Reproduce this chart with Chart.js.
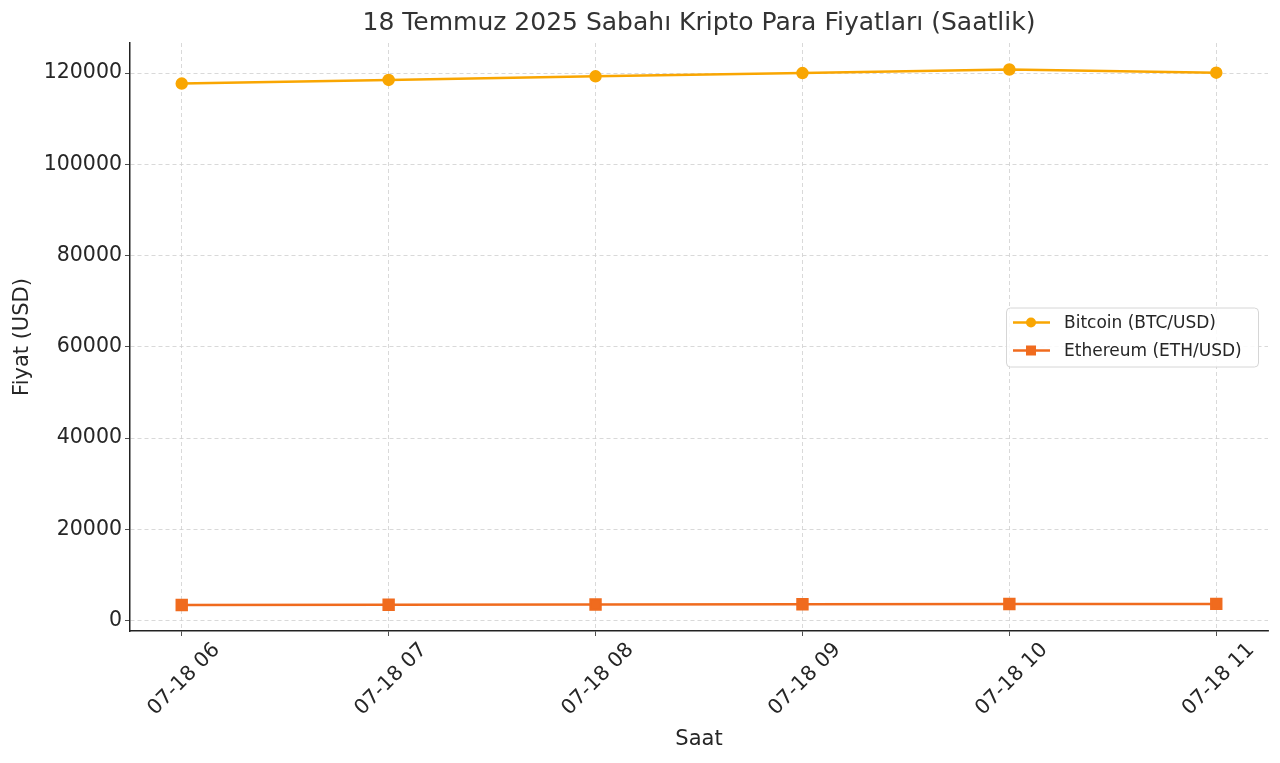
<!DOCTYPE html>
<html>
<head>
<meta charset="utf-8">
<title>Kripto Para Fiyatları</title>
<script src="https://cdn.jsdelivr.net/npm/chart.js@4.4.1/dist/chart.umd.min.js"></script>
<style>
    body { margin: 0; background: #fff; }
    #wrap { width: 1280px; height: 763px; position: relative; }
</style>
</head>
<body>
<div id="wrap"><canvas id="priceChart"></canvas></div>
<script>
// Chart data
const hours = ['07-18 06', '07-18 07', '07-18 08', '07-18 09', '07-18 10', '07-18 11'];
const btcPrices = [117700, 118500, 119300, 120000, 120800, 120100];
const ethPrices = [3400, 3450, 3520, 3550, 3620, 3640];
const yTicks = [0, 20000, 40000, 60000, 80000, 100000, 120000];

const FONT = "'DejaVu Sans', sans-serif";
const TEXT = '#262626';
const BTC_COLOR = '#f9a602';
const ETH_COLOR = '#f06b1e';

const toPoints = values => values.map((v, i) => ({ x: i, y: v }));

// Legend drawn inside the plot area, matplotlib style
const innerLegend = {
    id: 'innerLegend',
    afterDraw(chart) {
        const { ctx, chartArea } = chart;
        const w = 252, h = 59;
        const x = chartArea.right - 10 - w;
        const y = (chartArea.top + chartArea.bottom) / 2 - h / 2;

        ctx.save();
        ctx.fillStyle = 'rgba(255,255,255,0.85)';
        ctx.strokeStyle = '#d6d6d6';
        ctx.lineWidth = 1;
        ctx.beginPath();
        ctx.roundRect(x + 0.5, y + 0.5, w, h, 4);
        ctx.fill();
        ctx.stroke();

        ctx.font = '17px ' + FONT;
        ctx.textBaseline = 'middle';
        chart.data.datasets.forEach((ds, i) => {
            const rowY = y + 15 + i * 28;
            ctx.strokeStyle = ds.borderColor;
            ctx.lineWidth = 2.5;
            ctx.beginPath();
            ctx.moveTo(x + 7, rowY);
            ctx.lineTo(x + 44, rowY);
            ctx.stroke();
            ctx.fillStyle = ds.borderColor;
            if (ds.pointStyle === 'rect') {
                ctx.fillRect(x + 20, rowY - 5, 10, 10);
            } else {
                ctx.beginPath();
                ctx.arc(x + 25, rowY, 5, 0, Math.PI * 2);
                ctx.fill();
            }
            ctx.fillStyle = TEXT;
            ctx.fillText(ds.label, x + 58, rowY + 1);
        });
        ctx.restore();
    }
};

const gridOpts = {
    color: '#cfcfcf',
    lineWidth: 0.8,
    tickColor: '#222',
    tickLength: 5
};

const ctx = document.getElementById('priceChart').getContext('2d');
new Chart(ctx, {
    type: 'line',
    data: {
        datasets: [
            {
                label: 'Bitcoin (BTC/USD)',
                data: toPoints(btcPrices),
                borderColor: BTC_COLOR,
                backgroundColor: BTC_COLOR,
                borderWidth: 2.5,
                pointStyle: 'circle',
                pointRadius: 5,
                tension: 0
            },
            {
                label: 'Ethereum (ETH/USD)',
                data: toPoints(ethPrices),
                borderColor: ETH_COLOR,
                backgroundColor: ETH_COLOR,
                borderWidth: 2.5,
                pointStyle: 'rect',
                pointRadius: 7,
                tension: 0
            }
        ]
    },
    options: {
        responsive: true,
        maintainAspectRatio: false,
        animation: false,
        layout: { padding: { left: 0, right: 12, top: 0, bottom: 0 } },
        plugins: {
            legend: { display: false },
            tooltip: { enabled: false },
            title: {
                display: true,
                fullSize: false,
                text: '18 Temmuz 2025 Sabahı Kripto Para Fiyatları (Saatlik)',
                color: '#333',
                font: { family: FONT, size: 25, weight: 'normal' },
                padding: { top: 8, bottom: 5 }
            }
        },
        scales: {
            x: {
                type: 'linear',
                min: -0.25,
                max: 5.25,
                afterBuildTicks: scale => {
                    scale.ticks = hours.map((_, i) => ({ value: i }));
                },
                afterFit: scale => { scale.height = 132; },
                ticks: {
                    callback: value => hours[value],
                    minRotation: 45,
                    maxRotation: 45,
                    labelOffset: 35,
                    padding: 2,
                    color: TEXT,
                    font: { family: FONT, size: 20.5 }
                },
                grid: gridOpts,
                border: { display: true, color: '#222', width: 1.5, dash: [4, 3] },
                title: {
                    display: true,
                    text: 'Saat',
                    color: TEXT,
                    font: { family: FONT, size: 21 },
                    padding: { top: 4, bottom: 11 }
                }
            },
            y: {
                min: -2300,
                max: 126600,
                afterBuildTicks: scale => {
                    scale.ticks = yTicks.map(v => ({ value: v }));
                },
                afterFit: scale => { scale.width = 130; },
                ticks: {
                    callback: value => String(value),
                    padding: 3,
                    color: TEXT,
                    font: { family: FONT, size: 20.5 }
                },
                grid: gridOpts,
                border: { display: true, color: '#222', width: 1.5, dash: [4, 3] },
                title: {
                    display: true,
                    text: 'Fiyat (USD)',
                    color: TEXT,
                    font: { family: FONT, size: 21 },
                    padding: { top: 10, bottom: 4 }
                }
            }
        }
    },
    plugins: [innerLegend]
});
</script>
</body>
</html>
